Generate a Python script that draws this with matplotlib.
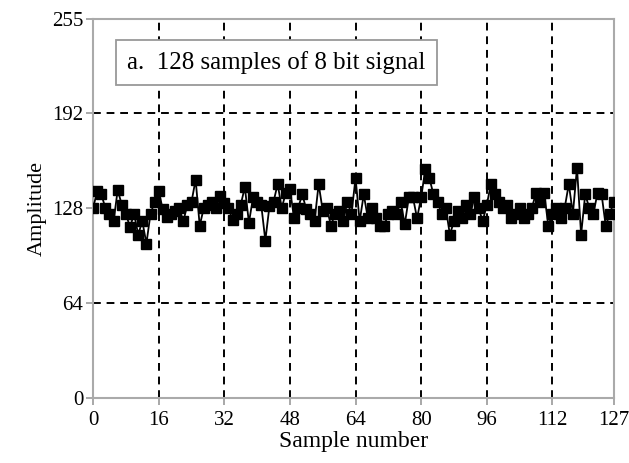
import numpy as np
import matplotlib
matplotlib.use("Agg")
import matplotlib.pyplot as plt

plt.rcParams['font.family'] = ['Liberation Serif', 'DejaVu Serif']

# amplitude values, samples 0..127
amplitude = [
    128, 139, 137, 128, 124, 119, 140, 130, 124, 115,
    124, 110, 119, 104, 124, 132, 139, 127, 122, 124,
    126, 128, 119, 130, 132, 147, 116, 128, 130, 132,
    128, 136, 131, 128, 120, 124, 130, 142, 118, 135,
    132, 130, 106, 129, 132, 144, 128, 138, 141, 121,
    128, 137, 127, 124, 119, 144, 126, 128, 116, 124,
    126, 119, 132, 124, 148, 119, 137, 121, 128, 121,
    116, 116, 124, 126, 124, 132, 117, 135, 135, 121,
    135, 154, 148, 137, 132, 124, 128, 110, 119, 126,
    121, 130, 124, 135, 128, 119, 130, 144, 137, 132,
    128, 130, 121, 124, 128, 121, 124, 128, 138, 132,
    138, 116, 124, 128, 121, 128, 144, 124, 155, 110,
    137, 128, 124, 138, 137, 116, 124, 132,
]
samples = np.arange(len(amplitude))
x_ticks = [0, 16, 32, 48, 64, 80, 96, 112, 127]
y_ticks = [0, 64, 128, 192, 255]

fig = plt.figure(figsize=(6.29, 4.63), dpi=100)
ax = fig.add_axes([0.148, 0.140, 0.828, 0.819])

for xv in x_ticks[1:-1]:
    ax.axvline(xv, color='black', lw=1.4, ls=(0, (4, 3)), zorder=1)
for yv in [64, 192]:
    ax.axhline(yv, color='black', lw=1.4, ls=(0, (4, 3)), zorder=1)

ax.plot(samples, amplitude, color='black', lw=1.3, marker='s', ms=7,
        zorder=3)

ax.set_xlim(0, 127)
ax.set_ylim(0, 255)
ax.set_xticks(x_ticks)
ax.set_yticks(y_ticks)
ax.tick_params(axis='both', labelsize=15, color='#999999', length=5,
               width=1.2)
ax.tick_params(axis='x', pad=4)
ax.tick_params(axis='y', pad=2)
for sp in ax.spines.values():
    sp.set_color('#aaaaaa')
    sp.set_linewidth(1.5)

ax.set_xlabel('Sample number', fontsize=17, labelpad=1)
ax.set_ylabel('Amplitude', fontsize=16, labelpad=4)

ax.text(0.065, 0.885, 'a.  128 samples of 8 bit signal', transform=ax.transAxes,
        fontsize=18, va='center', ha='left', zorder=5,
        bbox=dict(boxstyle='square,pad=0.45', facecolor='white',
                  edgecolor='#999999', lw=1.3))

fig.savefig('out.png', dpi=100)
